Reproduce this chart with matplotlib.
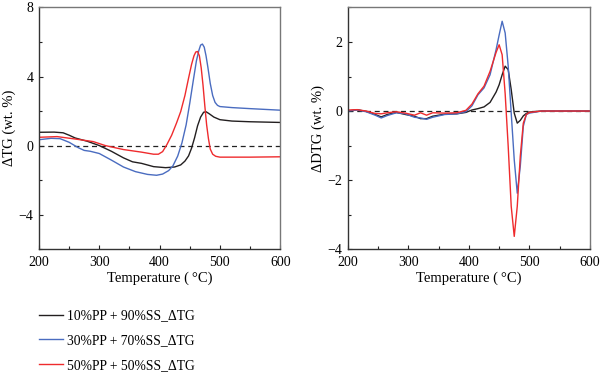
import numpy as np
import matplotlib
matplotlib.use("Agg")
import matplotlib.pyplot as plt
from matplotlib.ticker import MultipleLocator
from matplotlib.lines import Line2D

plt.rcParams['font.family'] = ['Liberation Serif', 'DejaVu Serif']

# --- data ---
labels = ["10%PP + 90%SS_\u0394TG", "30%PP + 70%SS_\u0394TG", "50%PP + 50%SS_\u0394TG"]
colors = ["#231f20", "#4a6cc0", "#ef2b2d"]

# left panel: delta TG
t_black = [200, 225, 240, 250, 260, 280, 300, 320, 340, 355, 370, 390, 410, 425, 435, 442,
           448, 453, 458, 463, 468, 473, 477, 482, 490, 500, 520, 550, 600]
tg_black = [0.77, 0.78, 0.74, 0.6, 0.44, 0.25, 0.0, -0.33, -0.71, -0.94, -1.03, -1.22,
            -1.28, -1.24, -1.12, -0.9, -0.6, -0.15, 0.45, 1.15, 1.65, 1.93, 1.96, 1.85,
            1.65, 1.5, 1.42, 1.38, 1.34]

t_blue = [200, 220, 235, 250, 265, 275, 285, 300, 320, 340, 360, 380, 395, 405, 415, 422,
          430, 437, 444, 450, 456, 461, 465, 468, 471, 474, 477, 480, 484, 488, 492, 496,
          500, 520, 550, 600]
tg_blue = [0.34, 0.42, 0.4, 0.19, -0.12, -0.28, -0.33, -0.46, -0.84, -1.24, -1.51, -1.67,
           -1.72, -1.65, -1.45, -1.18, -0.61, 0.15, 1.2, 2.45, 3.8, 4.9, 5.5, 5.82, 5.88,
           5.7, 5.2, 4.55, 3.6, 2.9, 2.5, 2.33, 2.26, 2.2, 2.14, 2.05]

t_red = [200, 230, 260, 290, 310, 340, 370, 390, 398, 405, 412, 420, 428, 435, 442, 448,
         453, 457, 460, 463, 466, 469, 472, 475, 478, 481, 484, 488, 493, 500, 550, 600]
tg_red = [0.48, 0.52, 0.38, 0.23, 0.0, -0.23, -0.38, -0.5, -0.5, -0.35, 0.05, 0.6, 1.3,
          1.97, 2.9, 3.9, 4.7, 5.2, 5.42, 5.45, 5.2, 4.5, 3.5, 2.3, 1.2, 0.4, -0.2, -0.5,
          -0.62, -0.67, -0.67, -0.65]

# right panel: delta DTG
d_t = [200, 215, 230, 245, 255, 265, 280, 295, 310, 320, 330, 340, 360, 380, 395, 405, 415,
       425, 435, 445, 450, 455, 460, 465, 470, 475, 480, 485, 490, 495, 500, 520, 600]
dtg_black = [0.0, 0.04, -0.01, -0.1, -0.17, -0.1, -0.04, -0.1, -0.15, -0.22, -0.22, -0.15,
             -0.09, -0.08, -0.04, 0.03, 0.07, 0.12, 0.25, 0.55, 0.76, 1.05, 1.3, 1.2, 0.62,
             -0.06, -0.35, -0.27, -0.14, -0.07, -0.03, 0.0, 0.0]
dtg_blue = [0.0, 0.03, -0.02, -0.12, -0.2, -0.13, -0.05, -0.08, -0.18, -0.2, -0.24, -0.18,
            -0.1, -0.08, -0.02, 0.15, 0.47, 0.67, 1.05, 1.78, 2.2, 2.6, 2.26, 1.3, -0.06,
            -1.41, -2.38, -1.6, -0.44, -0.1, -0.06, 0.0, 0.0]
dtg_red = [0.03, 0.04, 0.0, -0.07, -0.08, -0.05, -0.02, -0.06, -0.12, -0.05, -0.12, -0.05,
           -0.06, -0.05, 0.02, 0.2, 0.5, 0.72, 1.15, 1.7, 1.92, 1.63, 0.5, -1.02, -2.76,
           -3.63, -2.76, -1.31, -0.35, -0.1, -0.04, 0.0, 0.0]

fig = plt.figure(figsize=(6.0, 3.73), dpi=100)
ax1 = fig.add_axes([0.065, 0.332, 0.402, 0.648])
ax2 = fig.add_axes([0.580, 0.332, 0.403, 0.648])

frame = "#777777"
for ax in (ax1, ax2):
    ax.axhline(0, color="#222222", lw=0.9, ls=(0, (4, 3)), zorder=1)
    ax.set_xlim(200, 600)
    ax.xaxis.set_major_locator(MultipleLocator(100))
    ax.xaxis.set_minor_locator(MultipleLocator(50))
    ax.tick_params(which="both", direction="in", top=False, right=False,
                   color="#222222", labelsize=10)
    ax.tick_params(axis="x", pad=5)
    ax.tick_params(axis="y", pad=4)
    ax.tick_params(which="major", length=3, width=0.8)
    ax.tick_params(which="minor", length=2.5, width=0.8)
    for s in ax.spines.values():
        s.set_color(frame)
        s.set_linewidth(1.0)
    ax.spines["left"].set_color("#333333")
    ax.spines["bottom"].set_color("#333333")
    ax.set_xlabel("Temperature (\u2009\u00b0C)", fontsize=10.5, labelpad=2)

ax1.plot(t_black, tg_black, color=colors[0], lw=1.0)
ax1.plot(t_blue, tg_blue, color=colors[1], lw=1.0)
ax1.plot(t_red, tg_red, color=colors[2], lw=1.0)
ax1.set_ylim(-6, 8)
ax1.set_yticks([-4, 0, 4, 8])
ax1.set_yticklabels(["\u22124", "0", "4", "8"])
ax1.yaxis.set_minor_locator(MultipleLocator(2))
ax1.set_ylabel("\u0394TG (wt. %)", fontsize=10.5, labelpad=2)

ax2.plot(d_t, dtg_black, color=colors[0], lw=1.0)
ax2.plot(d_t, dtg_blue, color=colors[1], lw=1.0)
ax2.plot(d_t, dtg_red, color=colors[2], lw=1.0)
ax2.set_ylim(-4, 3)
ax2.set_yticks([-4, -2, 0, 2])
ax2.set_yticklabels(["\u22124", "\u22122", "0", "2"])
ax2.yaxis.set_minor_locator(MultipleLocator(1))
ax2.set_ylabel("\u0394DTG (wt. %)", fontsize=10.5, labelpad=2)

handles = [Line2D([0], [0], color=c, lw=1.0) for c in colors]
fig.legend(handles, labels, loc="upper left", bbox_to_anchor=(0.065, 0.17),
           frameon=False, fontsize=9.8, handlelength=1.75, handletextpad=0.3,
           labelspacing=0.85, borderaxespad=0, borderpad=0)

fig.savefig("out.png", dpi=100)
